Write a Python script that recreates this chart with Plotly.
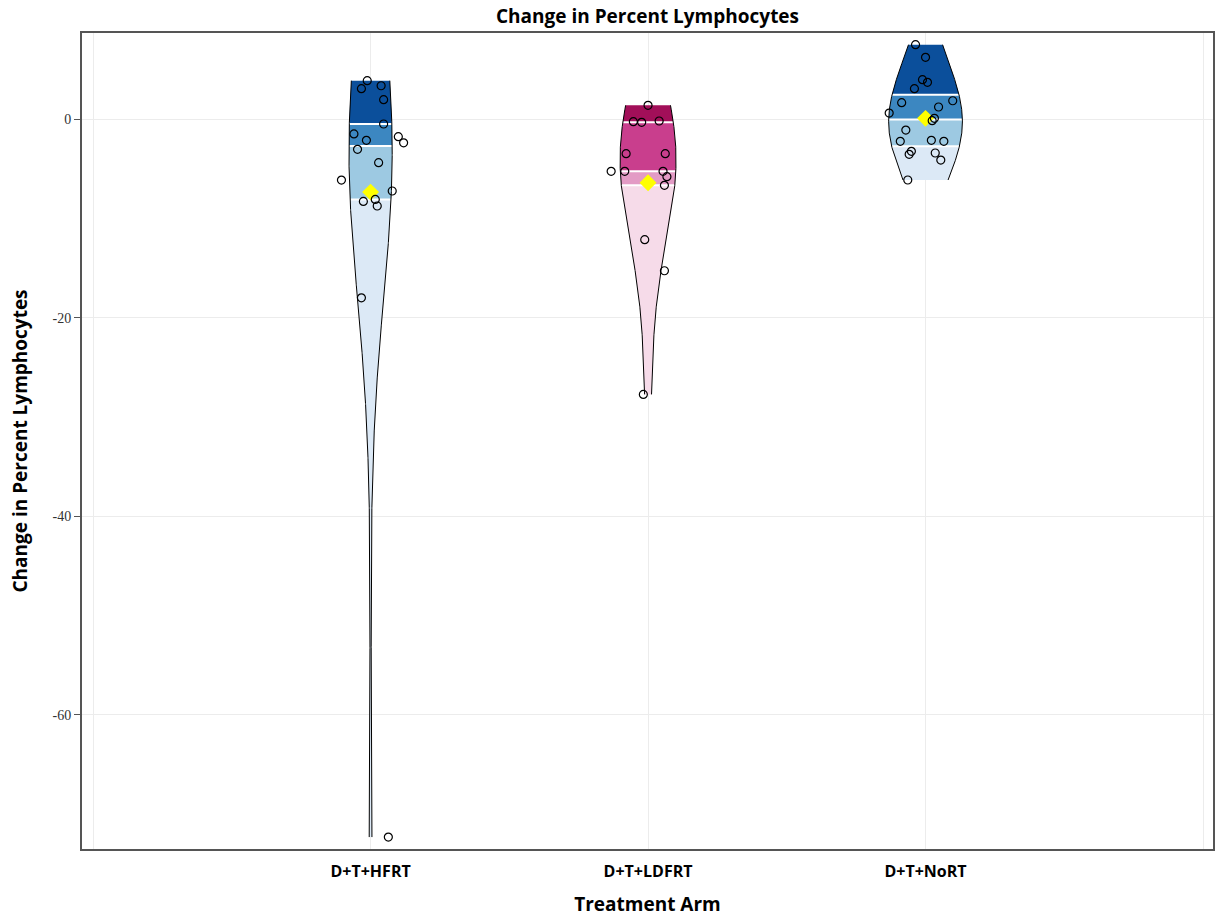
import numpy as np
import plotly.graph_objects as go

# ---------------- data ----------------
categories = ["D+T+HFRT", "D+T+LDFRT", "D+T+NoRT"]

hfrt_values = [3.86, 3.05, 3.35, 1.95, -0.5, -1.5, -2.15, -1.78, -2.4, -3.05,
               -4.4, -6.15, -7.25, -8.3, -8.1, -8.76, -18.0, -72.3]
hfrt_jitter = [-0.012, -0.033, 0.038, 0.047, 0.047, -0.060, -0.015, 0.100, 0.119, -0.047,
               0.029, -0.105, 0.078, -0.026, 0.017, 0.024, -0.033, 0.064]

ldfrt_values = [1.38, -0.27, -0.33, -0.2, -3.49, -3.49, -5.27, -5.27, -5.27, -5.81,
                -6.68, -12.15, -15.28, -27.73]
ldfrt_jitter = [0.000, -0.053, -0.023, 0.040, -0.079, 0.062, -0.133, -0.084, 0.054, 0.068,
                0.059, -0.012, 0.059, -0.017]

nort_values = [7.48, 6.21, 3.96, 3.69, 3.05, 1.64, 1.84, 1.21, 0.6, 0.07,
               -0.17, -1.11, -2.25, -2.15, -2.25, -3.25, -3.56, -3.42, -4.13, -6.14]
nort_jitter = [-0.036, 0.000, -0.011, 0.007, -0.040, -0.086, 0.098, 0.047, -0.131, 0.032,
               0.024, -0.071, -0.091, 0.021, 0.066, -0.051, -0.059, 0.035, 0.055, -0.064]

y_ticks = [-60, -40, -20, 0]
y_tick_labels = ["-60", "-40", "-20", "0"]

# ---------------- style ----------------
blues = ["#dce9f6", "#9dc9e2", "#3c87c1", "#0b4f9b"]
magentas = ["#f6dbe9", "#e39bc5", "#c93e8d", "#a20f59"]
group_colors = [blues, magentas, blues]
half_widths = [0.078, 0.101, 0.133]   # max half-width of each violin (category units)
bw_mult = [1.35, 1.5, 2.3]            # kernel bandwidth multipliers

groups = [(hfrt_values, hfrt_jitter), (ldfrt_values, ldfrt_jitter), (nort_values, nort_jitter)]

fig = go.Figure()


def kde_width(vals, half_width, mult):
    v = np.asarray(vals, float)
    n = len(v)
    h = mult * 1.06 * v.std(ddof=1) * n ** (-0.2)
    grid = np.linspace(v.min(), v.max(), 800)
    dens = np.exp(-0.5 * ((grid[:, None] - v[None, :]) / h) ** 2).sum(axis=1)
    dens = dens / dens.max() * half_width

    def width(y):
        return np.interp(y, grid, dens)
    return width


for gi, (vals, jit) in enumerate(groups):
    c = gi
    v = np.asarray(vals, float)
    width = kde_width(v, half_widths[gi], bw_mult[gi])
    q1, q2, q3 = np.quantile(v, [0.25, 0.5, 0.75], method="averaged_inverted_cdf")
    bounds = [v.min(), q1, q2, q3, v.max()]
    cols = group_colors[gi]
    for bi in range(4):
        ys = np.linspace(bounds[bi], bounds[bi + 1], 160)
        w = width(ys)
        xs = np.concatenate([c - w, (c + w)[::-1]])
        yy = np.concatenate([ys, ys[::-1]])
        fig.add_trace(go.Scatter(x=xs, y=yy, fill="toself", fillcolor=cols[bi],
                                 line=dict(width=0), mode="lines",
                                 hoverinfo="skip", showlegend=False))
    for q in (q1, q2, q3):
        wq = float(width(q))
        fig.add_trace(go.Scatter(x=[c - wq, c + wq], y=[q, q], mode="lines",
                                 line=dict(color="white", width=2),
                                 hoverinfo="skip", showlegend=False))
    ys = np.linspace(v.min(), v.max(), 800)
    w = width(ys)
    for sgn in (-1, 1):
        fig.add_trace(go.Scatter(x=c + sgn * w, y=ys, mode="lines",
                                 line=dict(color="black", width=1),
                                 hoverinfo="skip", showlegend=False))
    fig.add_trace(go.Scatter(x=[c], y=[v.mean()], mode="markers",
                             marker=dict(symbol="diamond", size=13, color="#ffff00",
                                         line=dict(width=0)),
                             showlegend=False, name="Mean"))
    fig.add_trace(go.Scatter(x=c + np.asarray(jit), y=v, mode="markers",
                             marker=dict(symbol="circle-open", size=8, color="black",
                                         line=dict(width=1.2)),
                             showlegend=False, name=categories[gi]))

fig.update_layout(
    width=1216, height=917,
    margin=dict(l=82, r=1, t=33, b=68),
    paper_bgcolor="white", plot_bgcolor="white",
    title=dict(text="<b>Change in Percent Lymphocytes</b>", x=0.5, xref="paper",
               y=1 - 16 / 917, yref="container", yanchor="middle", xanchor="center",
               font=dict(family="Open Sans", size=19, color="black")),
    font=dict(family="Open Sans", color="black"),
)

fig.update_xaxes(
    range=[-1.04, 3.036],
    tickvals=[-1, 0, 1, 2, 3],
    ticktext=[""] + ["<b>%s</b>" % t for t in categories] + [""],
    tickfont=dict(family="Open Sans", size=16, color="black"),
    ticks="", ticklabelstandoff=7, showgrid=True, gridcolor="#ececec", gridwidth=1,
    zeroline=False, showline=True, linecolor="#555555", linewidth=2, mirror=True,
    title=dict(text="<b>Treatment Arm</b>", font=dict(family="Open Sans", size=19, color="black"),
               standoff=18),
)
fig.update_yaxes(
    range=[-73.5, 8.66],
    tickvals=y_ticks, ticktext=y_tick_labels,
    tickfont=dict(family="Liberation Serif", size=14, color="#333333"),
    ticks="outside", ticklen=6, tickcolor="#555555", tickwidth=1,
    showgrid=True, gridcolor="#ececec", gridwidth=1,
    zeroline=False, showline=True, linecolor="#555555", linewidth=2, mirror=True,
    title=dict(text="<b>Change in Percent Lymphocytes</b>",
               font=dict(family="Open Sans", size=19, color="black"), standoff=20),
)

fig.write_html("out.html")
